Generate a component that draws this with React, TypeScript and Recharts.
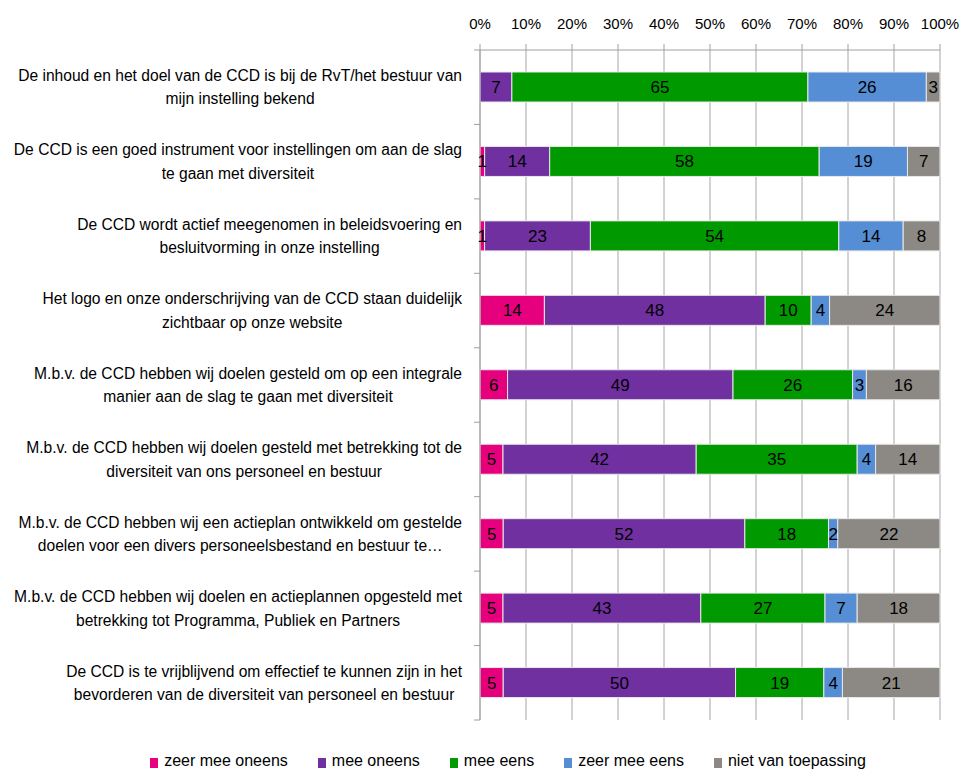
import React from 'react';
import { BarChart, Bar, XAxis, YAxis, CartesianGrid, LabelList, Legend } from 'recharts';

const FONT = '"Liberation Sans", Arial, sans-serif';

const categoryLines: string[][] = [
  ['De inhoud en het doel van de CCD is bij de RvT/het bestuur van', 'mijn instelling bekend'],
  ['De CCD is een goed instrument voor instellingen om aan de slag', 'te gaan met diversiteit'],
  ['De CCD wordt actief meegenomen in beleidsvoering en', 'besluitvorming in onze instelling'],
  ['Het logo en onze onderschrijving van de CCD staan duidelijk', 'zichtbaar op onze website'],
  ['M.b.v. de CCD hebben wij doelen gesteld om op een integrale', 'manier aan de slag te gaan met diversiteit'],
  ['M.b.v. de CCD hebben wij doelen gesteld met betrekking tot de', 'diversiteit van ons personeel en bestuur'],
  ['M.b.v. de CCD hebben wij een actieplan ontwikkeld om gestelde', 'doelen voor een divers personeelsbestand en bestuur te…'],
  ['M.b.v. de CCD hebben wij doelen en actieplannen opgesteld met', 'betrekking tot Programma, Publiek en Partners'],
  ['De CCD is te vrijblijvend om effectief te kunnen zijn in het', 'bevorderen van de diversiteit van personeel en bestuur'],
];

const zeerMeeOneens = [0, 1, 1, 14, 6, 5, 5, 5, 5];
const meeOneens = [7, 14, 23, 48, 49, 42, 52, 43, 50];
const meeEens = [65, 58, 54, 10, 26, 35, 18, 27, 19];
const zeerMeeEens = [26, 19, 14, 4, 3, 4, 2, 7, 4];
const nietVanToepassing = [3, 7, 8, 24, 16, 14, 22, 18, 21];

const percentTicks = [0, 0.1, 0.2, 0.3, 0.4, 0.5, 0.6, 0.7, 0.8, 0.9, 1];

const seriesDefs = [
  { key: 'zeerMeeOneens', name: 'zeer mee oneens', color: '#E6007E' },
  { key: 'meeOneens', name: 'mee oneens', color: '#7030A0' },
  { key: 'meeEens', name: 'mee eens', color: '#009900' },
  { key: 'zeerMeeEens', name: 'zeer mee eens', color: '#558ED5' },
  { key: 'nietVanToepassing', name: 'niet van toepassing', color: '#8C8984' },
];

const data = categoryLines.map((lines, i) => ({
  name: lines.join(' '),
  zeerMeeOneens: zeerMeeOneens[i],
  meeOneens: meeOneens[i],
  meeEens: meeEens[i],
  zeerMeeEens: zeerMeeEens[i],
  nietVanToepassing: nietVanToepassing[i],
}));

const CAT_SIZE = 15.6;
const TICK_SIZE = 15;
const BAR_LABEL_SIZE = 17;
const LEGEND_SIZE = 16;

let measureCtx: CanvasRenderingContext2D | null = null;
function measure(text: string): number {
  if (!measureCtx) {
    const c = document.createElement('canvas');
    measureCtx = c.getContext('2d');
  }
  if (!measureCtx) return text.length * 7;
  measureCtx.font = `${CAT_SIZE}px ${FONT}`;
  return measureCtx.measureText(text).width;
}

const CategoryTick = (props: any) => {
  const { x, y, index, payload } = props;
  const lines = categoryLines[index] || [String(payload.value)];
  const maxW = Math.max(...lines.map(measure));
  const cx = x - maxW / 2;
  const lineH = 23.5;
  const half = payload && payload.offset ? payload.offset : 37.2;
  const axisX = x + 18;
  return (
    <g>
      <line x1={axisX - 6} y1={y - half} x2={axisX} y2={y - half} stroke="#A0A0A0" />
      {index === categoryLines.length - 1 && (
        <line x1={axisX - 6} y1={y + half} x2={axisX} y2={y + half} stroke="#A0A0A0" />
      )}
      {lines.map((l, i) => (
        <text
          key={i}
          x={cx}
          y={y + (i - (lines.length - 1) / 2) * lineH}
          textAnchor="middle"
          dominantBaseline="central"
          fontSize={CAT_SIZE}
          fontFamily={FONT}
          fill="#000"
        >
          {l}
        </text>
      ))}
    </g>
  );
};

const LegendContent = () => (
  <div
    style={{
      display: 'flex',
      justifyContent: 'center',
      alignItems: 'center',
      height: 20,
      lineHeight: '20px',
      paddingLeft: 56,
      fontFamily: FONT,
      fontSize: LEGEND_SIZE,
      color: '#000',
      whiteSpace: 'nowrap',
    }}
  >
    {seriesDefs.map((s, i) => (
      <div key={s.key} style={{ display: 'flex', alignItems: 'center', marginRight: i < seriesDefs.length - 1 ? 30 : 0 }}>
        <span style={{ display: 'inline-block', width: 8, height: 10, background: s.color, marginRight: 6, marginTop: 3 }} />
        <span>{s.name}</span>
      </div>
    ))}
  </div>
);

const labelFormatter = (v: any) => (v ? String(v) : '');

export default function App() {
  return (
    <div style={{ position: 'absolute', left: 0, top: 0, width: 960, height: 769, background: '#fff' }}>
      <BarChart
        width={960}
        height={769}
        data={data}
        layout="vertical"
        stackOffset="expand"
        barSize={30}
        margin={{ top: 0, right: 20, left: 0, bottom: 29 }}
        style={{ fontFamily: FONT }}
      >
        <CartesianGrid horizontal={false} vertical={true} stroke="#A6A6A6" strokeWidth={1} />
        <XAxis
          type="number"
          orientation="top"
          domain={[0, 1]}
          ticks={percentTicks}
          tickFormatter={(v: number) => `${Math.round(v * 100)}%`}
          height={50}
          tickSize={6}
          tickMargin={15}
          axisLine={{ stroke: '#A0A0A0' }}
          tickLine={{ stroke: '#A0A0A0' }}
          tick={{ fill: '#000', fontSize: TICK_SIZE, fontFamily: FONT }}
          interval={0}
        />
        <YAxis
          type="category"
          dataKey="name"
          width={480}
          tickLine={false}
          tickMargin={12}
          axisLine={{ stroke: '#A0A0A0' }}
          tick={<CategoryTick />}
          interval={0}
        />
        {seriesDefs.map((s) => (
          <Bar
            key={s.key}
            dataKey={s.key}
            name={s.name}
            stackId="a"
            fill={s.color}
            stroke="#E8E8E8"
            strokeWidth={1}
            isAnimationActive={false}
          >
            <LabelList
              dataKey={s.key}
              position="center"
              fill="#000"
              fontSize={BAR_LABEL_SIZE}
              fontFamily={FONT}
              formatter={labelFormatter}
            />
          </Bar>
        ))}
        <Legend
          verticalAlign="bottom"
          content={<LegendContent />}
          wrapperStyle={{ top: 751, left: 0, width: 960, height: 20 }}
        />
      </BarChart>
    </div>
  );
}
